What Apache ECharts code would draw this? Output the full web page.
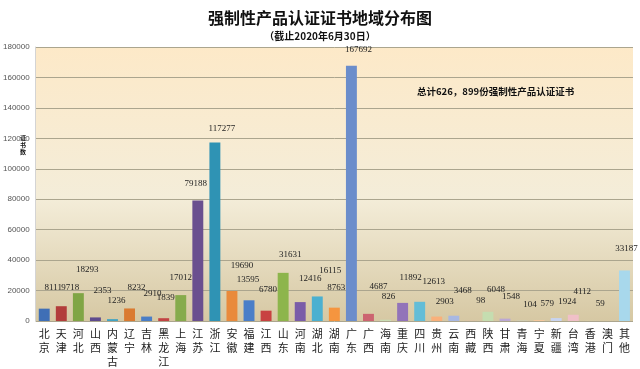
<!DOCTYPE html>
<html>
<head>
<meta charset="utf-8">
<script src="https://cdn.jsdelivr.net/npm/echarts@6/dist/echarts.min.js"></script>
<style>html,body{margin:0;padding:0;background:#fff;}#c{width:640px;height:369px;}</style>
</head>
<body>
<div id="c"></div>
<script>
// ---- data ----
const categories = ['北京','天津','河北','山西','内蒙古','辽宁','吉林','黑龙江','上海','江苏','浙江','安徽','福建','江西','山东','河南','湖北','湖南','广东','广西','海南','重庆','四川','贵州','云南','西藏','陕西','甘肃','青海','宁夏','新疆','台湾','香港','澳门','其他'];
const values = [8111,9718,18293,2353,1236,8232,2910,1839,17012,79188,117277,19690,13595,6780,31631,12416,16115,8763,167692,4687,826,11892,12613,2903,3468,98,6048,1548,104,579,1924,4112,59,null,33187];
const yTicks = {min: 0, max: 180000, interval: 20000};
const titleText = '强制性产品认证证书地域分布图';
const subtitleText = '（截止2020年6月30日）';
const noteText = '总计626，899份强制性产品认证证书';
const yName = '证书数';

// ---- style config ----
const barColors = ['#3F6FB6','#B23D3B','#80A545','#5E4B8D','#43A3C2','#DA7A30','#4A7EC6','#C24343','#86AB4C','#6A4F8F','#2F93B4','#E98A3C','#4A7EC8','#C84141','#8DB54C','#7A5CA8','#4BB0D0','#F5953F','#6B8DCB','#CC6470','#C9DDB4','#9273B9','#63BDD7','#F9B07A','#A8B8E2','#E8A8A8','#C5DDB0','#BBA8D4','#B0DDEA','#FAC89C','#C8D4F0','#F0C0C8','#D6E6C6','#D6CCE6','#A8D8EC'];
const labelShift = [[9,-16],[9,-14],[9,-19],[7,-22],[4,-13],[7,-16],[6,-18],[2,-16],[0,-12],[-2,-12],[7,-9],[10,-20],[-1,-16],[2,-16],[7,-13],[10,-18],[13,-21],[2,-15],[7,-11],[10,-22],[3,-18],[8,-20],[14,-15],[8,-10],[9,-20],[10,-15],[8,-17],[6,-17],[8,-11],[8,-11],[11,-11],[9,-18],[10,-12],[0,0],[2,-17]];

const chart = echarts.init(document.getElementById('c'), null, {renderer: 'canvas'});
const seriesData = values.map((v, i) => ({
  value: v,
  itemStyle: {color: barColors[i]},
  label: {offset: labelShift[i]}
}));

chart.setOption({
  backgroundColor: '#ffffff',
  animation: false,
  title: [
    {text: titleText, left: 'center', top: 5, textStyle: {fontFamily: 'Noto Sans CJK SC', fontWeight: 'bold', fontSize: 16, color: '#111'}},
    {text: subtitleText, left: 'center', top: 26, textStyle: {fontFamily: 'Noto Sans CJK SC', fontWeight: 'bold', fontSize: 10, color: '#111'}}
  ],
  grid: {
    left: 35, right: 7, top: 47, bottom: 43,
    show: true, borderWidth: 0,
    backgroundColor: {type: 'linear', x: 0, y: 0, x2: 0, y2: 1, colorStops: [
      {offset: 0, color: '#FDE9C8'}, {offset: 0.55, color: '#F4EDD9'}, {offset: 1, color: '#D6C8A3'}
    ]}
  },
  xAxis: {
    type: 'category',
    data: categories,
    axisLine: {show: false},
    axisTick: {show: false},
    axisLabel: {
      interval: 0, margin: 6,
      fontFamily: 'Noto Sans CJK SC', fontSize: 11, lineHeight: 14, color: '#222',
      formatter: s => s.split('').join('\n')
    }
  },
  yAxis: {
    type: 'value',
    min: yTicks.min, max: yTicks.max, interval: yTicks.interval,
    axisLine: {show: true, lineStyle: {color: '#D4D4D4'}},
    axisTick: {show: false},
    splitLine: {lineStyle: {color: '#ABA58E', width: 1}},
    axisLabel: {fontFamily: 'Liberation Sans', fontSize: 8, color: '#555', margin: 6, formatter: v => String(v)}
  },
  series: [{
    type: 'bar',
    data: seriesData,
    barCategoryGap: '36%',
    label: {
      show: true, position: 'top', distance: 0,
      fontFamily: 'Liberation Serif', fontSize: 9, lineHeight: 10, color: '#222',
      formatter: p => (p.value == null ? '' : String(p.value))
    }
  }],
  graphic: [
    {type: 'text', left: 20, top: 134, style: {text: yName.split('').join('\n'), font: 'bold 6px "Noto Sans CJK SC"', lineHeight: 7, fill: '#111'}},
    {type: 'text', left: 417, top: 87, style: {text: noteText, font: 'bold 9.5px "Noto Sans CJK SC"', fill: '#111'}}
  ]
});
</script>
</body>
</html>
